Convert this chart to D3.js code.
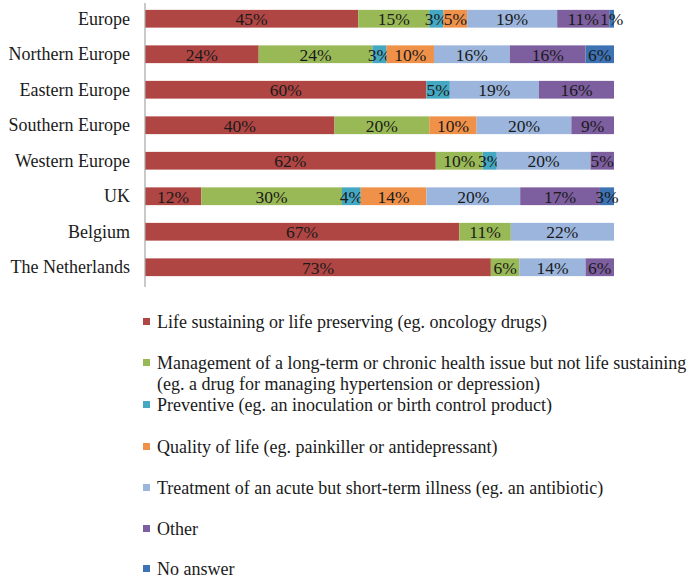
<!DOCTYPE html>
<html>
<head>
<meta charset="utf-8">
<script src="https://cdn.jsdelivr.net/npm/d3@7/dist/d3.min.js"></script>
<style>
  body { margin: 0; background: #fff; }
</style>
</head>
<body>
<div id="chart"></div>
<script>
var width = 700,
  height = 578;

var serif = "'Liberation Serif', 'Times New Roman', 'DejaVu Serif', serif";

// categories, top to bottom
var regions = ["Europe", "Northern Europe", "Eastern Europe", "Southern Europe",
  "Western Europe", "UK", "Belgium", "The Netherlands"];

var seriesKeys = ["life", "chronic", "preventive", "quality", "acute", "other", "noanswer"];

// one array per series, in the same order as regions (percent)
var lifeSustaining = [45, 24, 60, 40, 62, 12, 67, 73];
var chronicMgmt    = [15, 24, 0, 20, 10, 30, 11, 6];
var preventive     = [3, 3, 5, 0, 3, 4, 0, 0];
var qualityOfLife  = [5, 10, 0, 10, 0, 14, 0, 0];
var acuteIllness   = [19, 16, 19, 20, 20, 20, 22, 14];
var other          = [11, 16, 16, 9, 5, 17, 0, 6];
var noAnswer       = [1, 6, 0, 0, 0, 3, 0, 0];

var legendLines = [
  ["Life sustaining or life preserving (eg. oncology drugs)"],
  ["Management of a long-term or chronic health issue but not life sustaining",
   "(eg. a drug for managing hypertension or depression)"],
  ["Preventive (eg. an inoculation or birth control product)"],
  ["Quality of life (eg. painkiller or antidepressant)"],
  ["Treatment of an acute but short-term illness (eg. an antibiotic)"],
  ["Other"],
  ["No answer"]
];

var colors = ["#B04644", "#99B956", "#45A8C3", "#F0914A", "#9BB5DC", "#7D5E9E", "#3D72B3"];

var seriesValues = [lifeSustaining, chronicMgmt, preventive, qualityOfLife, acuteIllness, other, noAnswer];

var rows = regions.map(function (r, i) {
  var o = { region: r };
  seriesKeys.forEach(function (k, j) { o[k] = seriesValues[j][i]; });
  return o;
});

var svg = d3.select("#chart").append("svg")
  .attr("width", width)
  .attr("height", height)
  .style("font-family", serif);

var x = d3.scaleLinear().domain([0, 1]).range([145, 614]);
var y = d3.scaleBand().domain(regions).range([1, 285])
  .paddingInner(0.5).paddingOuter(0.25);
var color = d3.scaleOrdinal().domain(seriesKeys).range(colors);

// 100% stacked, like the spreadsheet chart
var stacked = d3.stack().keys(seriesKeys).offset(d3.stackOffsetExpand)(rows);

var layers = svg.append("g")
  .selectAll("g")
  .data(stacked)
  .enter().append("g")
  .attr("fill", function (d) { return color(d.key); });

layers.selectAll("rect")
  .data(function (d) { return d; })
  .enter().append("rect")
  .attr("x", function (d) { return x(d[0]); })
  .attr("y", function (d) { return y(d.data.region); })
  .attr("width", function (d) { return x(d[1]) - x(d[0]); })
  .attr("height", y.bandwidth());

// value labels
layers.each(function (layer) {
  d3.select(this).selectAll("text")
    .data(layer.filter(function (d) { return d.data[layer.key] > 0; }))
    .enter().append("text")
    .attr("x", function (d) { return (x(d[0]) + x(d[1])) / 2; })
    .attr("y", function (d) { return y(d.data.region) + y.bandwidth() / 2; })
    .attr("dy", "0.36em")
    .attr("text-anchor", "middle")
    .attr("fill", "#1a1a1a")
    .style("font-family", serif)
    .style("font-size", "17.5px")
    .text(function (d) { return d.data[layer.key] + "%"; });
});

// category axis
var yAxis = svg.append("g")
  .attr("transform", "translate(145,0)")
  .call(d3.axisLeft(y).tickSize(0).tickPadding(15));
yAxis.attr("font-family", null);
yAxis.select(".domain").remove();
yAxis.selectAll("text")
  .style("font-family", serif)
  .style("font-size", "18px")
  .attr("fill", "#1a1a1a");
svg.append("line")
  .attr("x1", 145).attr("x2", 145)
  .attr("y1", 3).attr("y2", 287)
  .attr("stroke", "#a6a6a6")
  .attr("stroke-width", 1.2);

// legend
var legendY = [322, 363, 405, 447, 488, 529, 569];
var legend = svg.append("g")
  .selectAll("g")
  .data(legendLines)
  .enter().append("g")
  .attr("transform", function (d, i) { return "translate(143," + legendY[i] + ")"; });

legend.append("rect")
  .attr("x", 0).attr("y", -4)
  .attr("width", 7).attr("height", 7)
  .attr("fill", function (d, i) { return colors[i]; });

legend.each(function (lines) {
  d3.select(this).selectAll("text")
    .data(lines)
    .enter().append("text")
    .attr("x", 14)
    .attr("y", function (d, j) { return j * 21; })
    .attr("dy", "0.36em")
    .attr("fill", "#1a1a1a")
    .style("font-family", serif)
    .style("font-size", "18px")
    .text(function (d) { return d; });
});
</script>
</body>
</html>
